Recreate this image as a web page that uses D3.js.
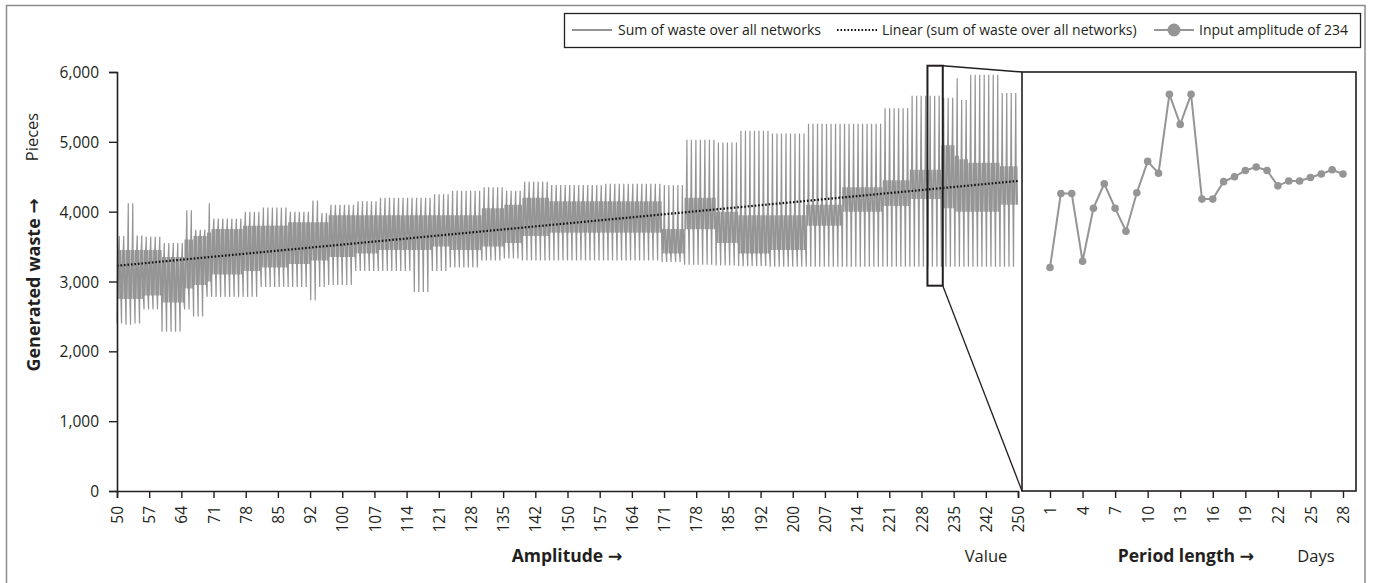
<!DOCTYPE html>
<html>
<head>
<meta charset="utf-8">
<script src="https://cdn.jsdelivr.net/npm/d3@7"></script>
<style>
  body { margin: 0; background: #fff; }
  text { font-family: "Open Sans", "DejaVu Sans", sans-serif; fill: #231f20; }
</style>
</head>
<body>
<script>
// x axis labels of the main panel (category labels, evenly spaced)
var ampLabels = [50, 57, 64, 71, 78, 85, 92, 100, 107, 114, 121, 128, 135, 142, 150,
    157, 164, 171, 178, 185, 192, 200, 207, 214, 221, 228, 235, 242, 250];

// sum of waste, read block by block off the picture (amplitude ranges)
var blockStart = [50, 52, 54, 56, 60, 65, 67, 70, 71, 78, 82, 88, 93, 95, 97, 103, 108, 116, 120, 124,
    131, 136, 140, 146, 158, 171, 176, 183, 188, 195, 203, 211, 220, 226, 233, 236, 237, 239, 246];
var blockPeak = [3650, 4120, 3660, 3640, 3550, 4020, 3740, 4120, 3900, 4000, 4060, 4000, 4160, 3980, 4100, 4150,
    4200, 4200, 4250, 4300, 4350, 4300, 4430, 4380, 4400, 4380, 5030, 4990, 5160, 5120, 5260,
    5260, 5480, 5660, 5630, 5910, 5600, 5960, 5700];
var blockLow = [2400, 2380, 2400, 2600, 2280, 2600, 2500, 2780, 2780, 2780, 2920, 2920, 2730, 2920, 2950, 3150,
    3150, 2850, 3150, 3200, 3300, 3330, 3300, 3300, 3300, 3280, 3240, 3230, 3220, 3210, 3210,
    3210, 3210, 3210, 3210, 3210, 3210, 3210, 3210];
var blockBandHi = [3450, 3450, 3450, 3450, 3350, 3600, 3650, 3700, 3750, 3800, 3800, 3850, 3850, 3850, 3950, 3950,
    3950, 3950, 3950, 3950, 4050, 4100, 4200, 4150, 4150, 3750, 4200, 4000, 3950, 3950, 4100,
    4350, 4450, 4600, 4950, 4800, 4750, 4700, 4650];
var blockBandLo = [2750, 2750, 2750, 2800, 2700, 2900, 2950, 3000, 3100, 3150, 3200, 3250, 3300, 3300, 3350, 3400,
    3450, 3450, 3500, 3450, 3500, 3550, 3650, 3700, 3700, 3400, 3750, 3550, 3400, 3450, 3800,
    4000, 4080, 4180, 4050, 4000, 4000, 4000, 4100];
var ampEnd = 250;

// linear trend (start / end values)
var trendAmp = [50, 250];
var trendVal = [3225, 4440];

// zoomed amplitude (234): waste per period length
var periodDays = d3.range(1, 29);
var periodWaste = [3200, 4260, 4260, 3290, 4050, 4400, 4050, 3720, 4270, 4720, 4550, 5680,
    5250, 5680, 4180, 4180, 4430, 4500, 4590, 4640, 4590, 4370, 4440, 4440, 4490, 4540, 4600, 4540];
var periodTicks = [1, 4, 7, 10, 13, 16, 19, 22, 25, 28];

// zoom window drawn on the main panel
var zoomAmp = [229.9, 233.3];
var zoomVal = [2940, 6090];

var yTicks = [0, 1000, 2000, 3000, 4000, 5000, 6000];

var W = 1373, H = 583;
var plotL = 117, plotR = 1018, plotT = 72, plotB = 491;
var insetL = 1022, insetR = 1356;
var gray = '#959595';

var svg = d3.select('body').append('svg')
    .attr('width', W)
    .attr('height', H);

// outer frame
svg.append('rect')
    .attr('x', 6.5).attr('y', 5.5)
    .attr('width', 1358.5).attr('height', 580)
    .attr('fill', 'none')
    .attr('stroke', '#8c8c8c')
    .attr('stroke-width', 1.5);

var x = d3.scaleLinear().domain([50, 250]).range([plotL, plotR]);
var y = d3.scaleLinear().domain([0, 6000]).range([plotB, plotT]);
var xi = d3.scaleLinear().domain([1, 28]).range([1050, 1343]);

// main series: one zigzag per amplitude inside each block
var pts = [];
for (var b = 0; b < blockStart.length; b++) {
    var a1 = blockStart[b];
    var a2 = b + 1 < blockStart.length ? blockStart[b + 1] : ampEnd;
    for (var a = a1; a < a2; a++) {
        var vals = [blockLow[b], blockBandHi[b], blockBandLo[b], blockBandHi[b],
            blockPeak[b], blockBandLo[b], blockBandHi[b], blockBandLo[b]];
        for (var k = 0; k < vals.length; k++) {
            pts.push([a + k / vals.length, vals[k]]);
        }
    }
}

var line = d3.line()
    .x(function(d) { return x(d[0]); })
    .y(function(d) { return y(d[1]); });

svg.append('path')
    .datum(pts)
    .attr('d', line)
    .attr('fill', 'none')
    .attr('stroke', gray)
    .attr('stroke-width', 1.2);

// trend line
svg.append('line')
    .attr('x1', x(trendAmp[0])).attr('y1', y(trendVal[0]))
    .attr('x2', x(trendAmp[1])).attr('y2', y(trendVal[1]))
    .attr('stroke', '#111')
    .attr('stroke-width', 2.2)
    .attr('stroke-dasharray', '1.6,1.9');

// axes
var yAxis = d3.axisLeft(y)
    .tickValues(yTicks)
    .tickSize(8)
    .tickFormat(d3.format(','));

var gy = svg.append('g')
    .attr('transform', 'translate(' + plotL + ',0)')
    .call(yAxis);
gy.selectAll('text').attr('font-size', 15.5).attr('dx', -7).attr('dy', '0.36em');

var tickPos = ampLabels.map(function(d, i) { return 50 + i * 200 / (ampLabels.length - 1); });
var xAxis = d3.axisBottom(x)
    .tickValues(tickPos)
    .tickSize(7)
    .tickFormat(function(d, i) { return ampLabels[i]; });

var gx = svg.append('g')
    .attr('transform', 'translate(0,' + plotB + ')')
    .call(xAxis);
gx.selectAll('text')
    .attr('font-size', 15.5)
    .attr('transform', 'rotate(-90)')
    .attr('text-anchor', 'end')
    .attr('x', -15)
    .attr('y', 0)
    .attr('dy', '0.36em');

[gx, gy].forEach(function(g) {
    g.select('.domain').attr('stroke', '#231f20').attr('stroke-width', 1.6);
    g.selectAll('.tick line').attr('stroke', '#231f20').attr('stroke-width', 1.4);
});

// zoom window and connectors
svg.append('rect')
    .attr('x', x(zoomAmp[0]))
    .attr('y', y(zoomVal[1]))
    .attr('width', x(zoomAmp[1]) - x(zoomAmp[0]))
    .attr('height', y(zoomVal[0]) - y(zoomVal[1]))
    .attr('fill', 'none')
    .attr('stroke', '#231f20')
    .attr('stroke-width', 2);

svg.append('line')
    .attr('x1', x(zoomAmp[1])).attr('y1', y(zoomVal[1]))
    .attr('x2', insetL).attr('y2', plotT)
    .attr('stroke', '#231f20').attr('stroke-width', 1.6);
svg.append('line')
    .attr('x1', x(zoomAmp[1])).attr('y1', y(zoomVal[0]))
    .attr('x2', insetL).attr('y2', plotB)
    .attr('stroke', '#231f20').attr('stroke-width', 1.3);

// inset panel
svg.append('rect')
    .attr('x', insetL).attr('y', plotT)
    .attr('width', insetR - insetL).attr('height', plotB - plotT)
    .attr('fill', '#fff')
    .attr('stroke', '#231f20')
    .attr('stroke-width', 1.6);

var gxi = svg.append('g')
    .attr('transform', 'translate(0,' + plotB + ')')
    .call(d3.axisBottom(xi).tickValues(periodTicks).tickSize(7).tickSizeOuter(0));
gxi.select('.domain').remove();
gxi.selectAll('.tick line').attr('stroke', '#231f20').attr('stroke-width', 1.4);
gxi.selectAll('text')
    .attr('font-size', 15.5)
    .attr('transform', 'rotate(-90)')
    .attr('text-anchor', 'end')
    .attr('x', -15)
    .attr('y', 0)
    .attr('dy', '0.36em');

var lineI = d3.line()
    .x(function(d, i) { return xi(periodDays[i]); })
    .y(function(d) { return y(d); });

svg.append('path')
    .datum(periodWaste)
    .attr('d', lineI)
    .attr('fill', 'none')
    .attr('stroke', gray)
    .attr('stroke-width', 2);

svg.selectAll('.dot')
    .data(periodWaste)
    .enter().append('circle')
        .attr('class', 'dot')
        .attr('cx', function(d, i) { return xi(periodDays[i]); })
        .attr('cy', function(d) { return y(d); })
        .attr('r', 3.8)
        .attr('fill', gray);

// axis titles
svg.append('text')
    .attr('transform', 'translate(40,285) rotate(-90)')
    .attr('text-anchor', 'middle')
    .attr('font-size', 18)
    .attr('font-weight', 'bold')
    .text('Generated waste \u2192');
svg.append('text')
    .attr('transform', 'translate(38,137) rotate(-90)')
    .attr('text-anchor', 'middle')
    .attr('font-size', 16.5)
    .text('Pieces');

svg.append('text')
    .attr('x', 567).attr('y', 562)
    .attr('text-anchor', 'middle')
    .attr('font-size', 17.5)
    .attr('font-weight', 'bold')
    .text('Amplitude \u2192');
svg.append('text')
    .attr('x', 986).attr('y', 562)
    .attr('text-anchor', 'middle')
    .attr('font-size', 16.5)
    .text('Value');
svg.append('text')
    .attr('x', 1186).attr('y', 562)
    .attr('text-anchor', 'middle')
    .attr('font-size', 17.5)
    .attr('font-weight', 'bold')
    .text('Period length \u2192');
svg.append('text')
    .attr('x', 1316).attr('y', 562)
    .attr('text-anchor', 'middle')
    .attr('font-size', 16.5)
    .text('Days');

// legend
var legend = svg.append('g');
legend.append('rect')
    .attr('x', 564.5).attr('y', 13.5)
    .attr('width', 796).attr('height', 34)
    .attr('fill', '#fff')
    .attr('stroke', '#231f20')
    .attr('stroke-width', 1.3);

var legY = 30;
legend.append('line')
    .attr('x1', 572).attr('x2', 612).attr('y1', legY).attr('y2', legY)
    .attr('stroke', gray).attr('stroke-width', 2);
legend.append('text')
    .attr('x', 618).attr('y', legY).attr('dy', '0.35em')
    .attr('font-size', 14)
    .text('Sum of waste over all networks');

legend.append('line')
    .attr('x1', 837).attr('x2', 877).attr('y1', legY).attr('y2', legY)
    .attr('stroke', '#111').attr('stroke-width', 2.2)
    .attr('stroke-dasharray', '1.6,1.9');
legend.append('text')
    .attr('x', 882).attr('y', legY).attr('dy', '0.35em')
    .attr('font-size', 14)
    .text('Linear (sum of waste over all networks)');

legend.append('line')
    .attr('x1', 1154).attr('x2', 1194).attr('y1', legY).attr('y2', legY)
    .attr('stroke', gray).attr('stroke-width', 2);
legend.append('circle')
    .attr('cx', 1174).attr('cy', legY).attr('r', 6.5)
    .attr('fill', gray);
legend.append('text')
    .attr('x', 1199).attr('y', legY).attr('dy', '0.35em')
    .attr('font-size', 14)
    .text('Input amplitude of 234');
</script>
</body>
</html>
